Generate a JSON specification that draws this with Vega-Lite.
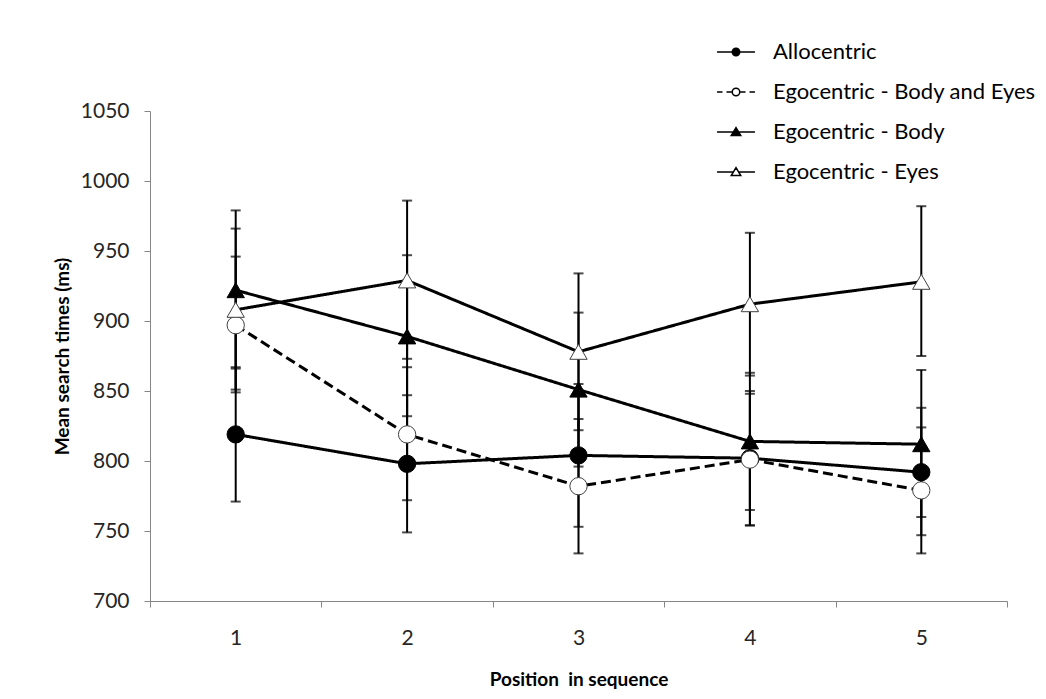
{
  "$schema": "https://vega.github.io/schema/vega-lite/v6.json",
  "width": 857,
  "height": 490,
  "autosize": "none",
  "padding": {"left": 150, "top": 111, "right": 39, "bottom": 98},
  "background": "white",
  "config": {
    "font": "Lato",
    "view": {"stroke": null},
    "axis": {
      "domainColor": "#868686", "tickColor": "#868686", "domainWidth": 1, "tickWidth": 1, "tickSize": 6,
      "labelFont": "Lato", "labelFontSize": 21, "labelColor": "#262626",
      "titleFont": "Lato", "titleFontSize": 19, "titleFontWeight": "bold", "titleColor": "black", "grid": false
    },
    "axisX": {"tickBand": "extent", "labelAngle": 0, "labelPadding": 20, "titlePadding": 22},
    "axisY": {"labelPadding": 15, "titlePadding": 8}
  },
  "data": {"values": [
    {"series": "Allocentric", "pos": 1, "mean": 819, "lo": 771, "hi": 867},
    {"series": "Allocentric", "pos": 2, "mean": 798, "lo": 749, "hi": 847},
    {"series": "Allocentric", "pos": 3, "mean": 804, "lo": 753, "hi": 855},
    {"series": "Allocentric", "pos": 4, "mean": 802, "lo": 754, "hi": 850},
    {"series": "Allocentric", "pos": 5, "mean": 792, "lo": 747, "hi": 838},
    {"series": "Egocentric - Body and Eyes", "pos": 1, "mean": 897, "lo": 849, "hi": 946},
    {"series": "Egocentric - Body and Eyes", "pos": 2, "mean": 819, "lo": 772, "hi": 867},
    {"series": "Egocentric - Body and Eyes", "pos": 3, "mean": 782, "lo": 734, "hi": 830},
    {"series": "Egocentric - Body and Eyes", "pos": 4, "mean": 801, "lo": 754, "hi": 848},
    {"series": "Egocentric - Body and Eyes", "pos": 5, "mean": 779, "lo": 734, "hi": 824},
    {"series": "Egocentric - Body", "pos": 1, "mean": 922, "lo": 866, "hi": 979},
    {"series": "Egocentric - Body", "pos": 2, "mean": 889, "lo": 832, "hi": 947},
    {"series": "Egocentric - Body", "pos": 3, "mean": 851, "lo": 796, "hi": 906},
    {"series": "Egocentric - Body", "pos": 4, "mean": 814, "lo": 765, "hi": 863},
    {"series": "Egocentric - Body", "pos": 5, "mean": 812, "lo": 760, "hi": 865},
    {"series": "Egocentric - Eyes", "pos": 1, "mean": 908, "lo": 851, "hi": 966},
    {"series": "Egocentric - Eyes", "pos": 2, "mean": 929, "lo": 873, "hi": 986},
    {"series": "Egocentric - Eyes", "pos": 3, "mean": 878, "lo": 822, "hi": 934},
    {"series": "Egocentric - Eyes", "pos": 4, "mean": 912, "lo": 861, "hi": 963},
    {"series": "Egocentric - Eyes", "pos": 5, "mean": 928, "lo": 875, "hi": 982}
  ]},
  "encoding": {
    "x": {
      "field": "pos", "type": "ordinal", "bandPosition": 0.5,
      "scale": {"type": "band", "paddingInner": 0, "paddingOuter": 0},
      "title": "Position\u00a0 in sequence"
    }
  },
  "layer": [
    {
      "mark": {"type": "rule", "color": "black", "strokeWidth": 2},
      "encoding": {
        "y": {"field": "lo", "type": "quantitative", "title": "Mean search times (ms)",
              "scale": {"domain": [700, 1050], "nice": false, "zero": false},
              "axis": {"values": [700, 750, 800, 850, 900, 950, 1000, 1050], "format": "d"}},
        "y2": {"field": "hi"}
      }
    },
    {
      "mark": {"type": "tick", "color": "black", "size": 10, "thickness": 2},
      "encoding": {"y": {"field": "lo", "type": "quantitative", "title": "Mean search times (ms)"}}
    },
    {
      "mark": {"type": "tick", "color": "black", "size": 10, "thickness": 2},
      "encoding": {"y": {"field": "hi", "type": "quantitative", "title": "Mean search times (ms)"}}
    },
    {
      "mark": {"type": "line", "color": "black", "strokeWidth": 3},
      "encoding": {
        "y": {"field": "mean", "type": "quantitative", "title": "Mean search times (ms)"},
        "detail": {"field": "series"},
        "strokeDash": {"field": "series", "legend": null,
          "scale": {"domain": ["Allocentric", "Egocentric - Body and Eyes", "Egocentric - Body", "Egocentric - Eyes"],
                    "range": [[1, 0], [10, 5], [1, 0], [1, 0]]}}
      }
    },
    {
      "mark": {"type": "point", "filled": true, "strokeWidth": 1, "opacity": 1},
      "encoding": {
        "y": {"field": "mean", "type": "quantitative", "title": "Mean search times (ms)"},
        "shape": {"field": "series", "legend": null,
          "scale": {"domain": ["Allocentric", "Egocentric - Body and Eyes", "Egocentric - Body", "Egocentric - Eyes"],
                    "range": ["circle", "circle", "triangle-up", "triangle-up"]}},
        "fill": {"field": "series", "legend": null,
          "scale": {"domain": ["Allocentric", "Egocentric - Body and Eyes", "Egocentric - Body", "Egocentric - Eyes"],
                    "range": ["black", "white", "black", "white"]}},
        "stroke": {"field": "series", "legend": null,
          "scale": {"domain": ["Allocentric", "Egocentric - Body and Eyes", "Egocentric - Body", "Egocentric - Eyes"],
                    "range": ["black", "#404040", "black", "#404040"]}},
        "size": {"field": "series", "legend": null,
          "scale": {"domain": ["Allocentric", "Egocentric - Body and Eyes", "Egocentric - Body", "Egocentric - Eyes"],
                    "range": [300, 300, 400, 400]}}
      }
    },
    {
      "transform": [{"filter": "false"}],
      "mark": {"type": "point", "filled": true, "stroke": "black", "strokeWidth": 3, "size": 310, "opacity": 1},
      "encoding": {
        "y": {"field": "mean", "type": "quantitative", "title": "Mean search times (ms)"},
        "shape": {"field": "series", "title": null,
          "scale": {"domain": ["Allocentric", "Egocentric - Body and Eyes", "Egocentric - Body", "Egocentric - Eyes"],
                    "range": [
                      "M-3.8,0H-0.78M0.78,0H3.8M0.75,0A0.75,0.75,0,1,1,-0.75,0A0.75,0.75,0,1,1,0.75,0Z",
                      "M-3.8,0H-2.7M-1.9,0H-0.78M0.78,0H1.9M2.7,0H3.8M0.75,0A0.75,0.75,0,1,1,-0.75,0A0.75,0.75,0,1,1,0.75,0Z",
                      "M-3.8,0H-0.52M0.52,0H3.8M0,-0.88L0.95,0.7L-0.95,0.7Z",
                      "M-3.8,0H-0.52M0.52,0H3.8M0,-0.88L0.95,0.7L-0.95,0.7Z"
                    ]},
          "legend": {"orient": "none", "legendX": 575, "legendY": -70, "labelFont": "Lato", "labelFontSize": 22,
                     "labelColor": "black", "labelOffset": 26, "labelLimit": 0, "rowPadding": 18,
                     "encode": {"symbols": {"update": {"stroke": {"value": "black"}, "strokeWidth": {"value": 3}, "size": {"value": 310}}}}}},
        "fill": {"field": "series", "title": null,
          "scale": {"domain": ["Allocentric", "Egocentric - Body and Eyes", "Egocentric - Body", "Egocentric - Eyes"],
                    "range": ["black", "white", "black", "white"]}}
      }
    }
  ],
  "resolve": {"scale": {"shape": "independent", "fill": "independent", "stroke": "independent", "size": "independent"}}
}
